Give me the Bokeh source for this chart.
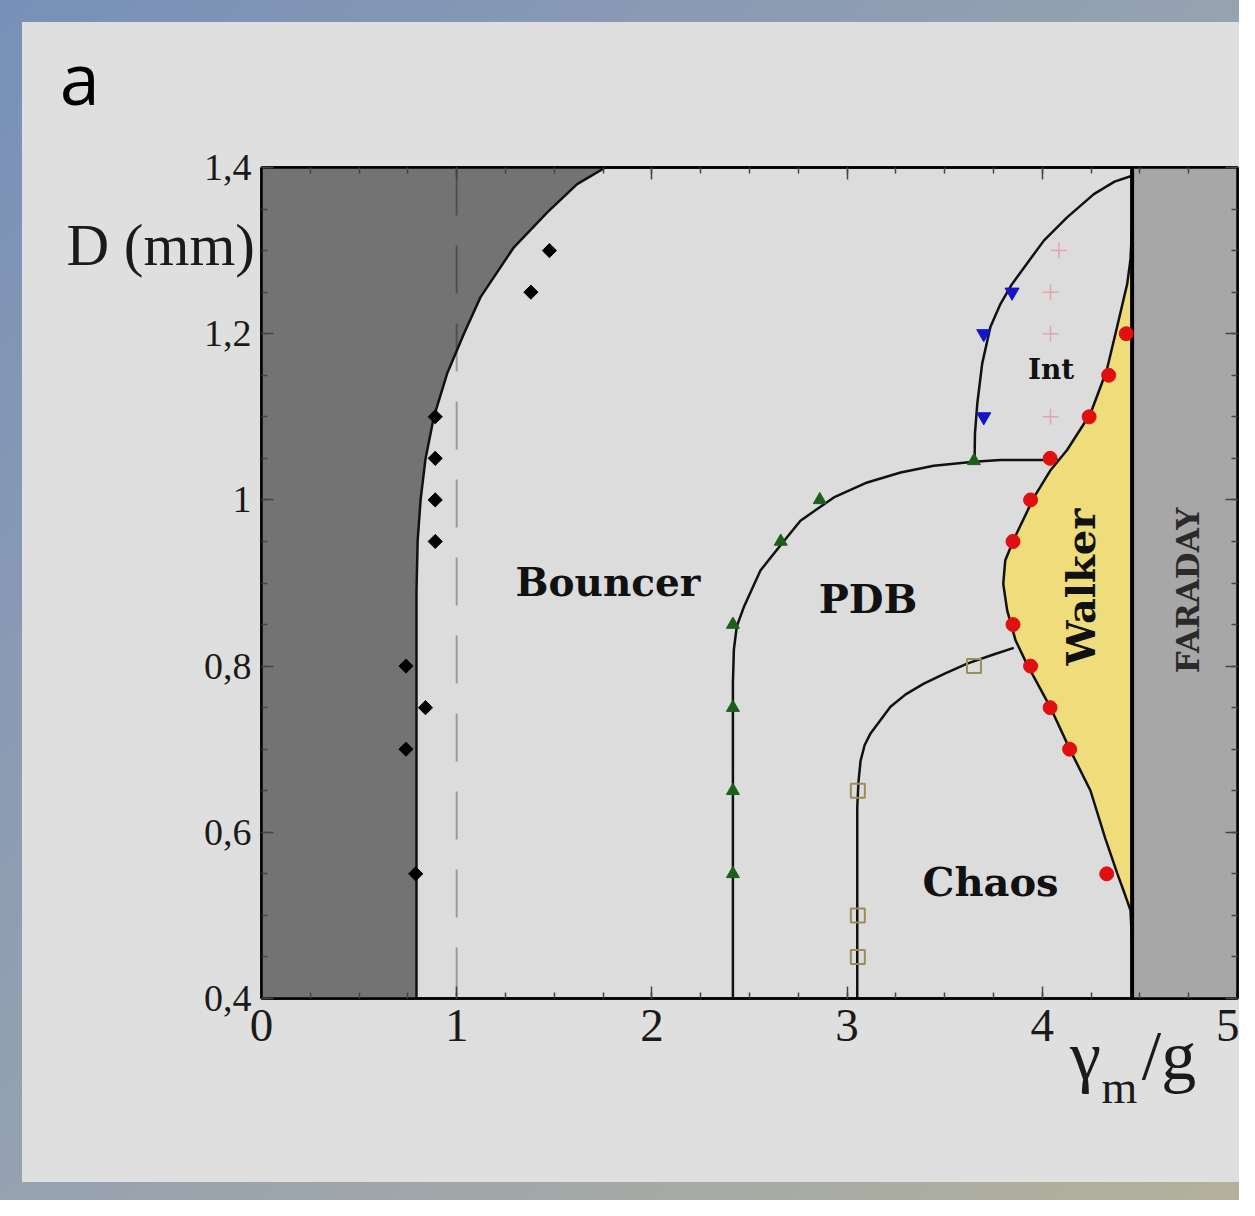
from math import pi
from bokeh.plotting import figure
from bokeh.models import FixedTicker, LinearAxis, CustomJSTickFormatter, Label
from bokeh.embed import file_html
from bokeh.resources import INLINE

# ---------------- axes / ticks ----------------
X_TICKS = [0, 1, 2, 3, 4, 5]
X_MINOR = [i * 0.25 for i in range(21)]
Y_TICKS = [0.4, 0.6, 0.8, 1.0, 1.2, 1.4]
Y_MINOR = [0.4 + i * 0.05 for i in range(21)]
Y_TICK_LABELS = ["0,4", "0,6", "0,8", "1", "1,2", "1,4"]

# ---------------- regime boundaries (gamma_m/g, D in mm) ----------------
bouncer_gamma = [0.794, 0.794, 0.80, 0.815, 0.84, 0.883, 0.951, 1.037, 1.122, 1.293, 1.464, 1.617, 1.762]
bouncer_D     = [0.40, 0.89, 0.951, 1.00, 1.049, 1.10, 1.152, 1.20, 1.244, 1.304, 1.346, 1.38, 1.40]

pdb_gamma = [2.415, 2.415, 2.42, 2.435, 2.471, 2.556, 2.664, 2.761, 2.932, 3.103, 3.274, 3.444, 3.649, 3.786, 4.08]
pdb_D     = [0.40, 0.78, 0.82, 0.848, 0.871, 0.915, 0.947, 0.975, 1.003, 1.021, 1.033, 1.041, 1.046, 1.048, 1.048]

chaos_gamma = [3.052, 3.052, 3.058, 3.069, 3.09, 3.12, 3.222, 3.30, 3.393, 3.50, 3.615, 3.75, 3.854]
chaos_D     = [0.40, 0.63, 0.66, 0.686, 0.705, 0.719, 0.751, 0.766, 0.779, 0.791, 0.803, 0.814, 0.822]

int_gamma = [3.653, 3.655, 3.667, 3.692, 3.734, 3.786, 3.84, 3.92, 4.008, 4.127, 4.264, 4.37, 4.46]
int_D     = [1.046, 1.08, 1.116, 1.164, 1.208, 1.236, 1.258, 1.284, 1.312, 1.34, 1.368, 1.383, 1.39]

walker_gamma = [4.46, 4.452, 4.416, 4.385, 4.323, 4.247, 4.145, 4.04, 3.92, 3.863, 3.82, 3.80, 3.81,
                3.855, 3.957, 4.04, 4.127, 4.247, 4.33, 4.383, 4.435, 4.452, 4.46]
walker_D     = [0.465, 0.506, 0.53, 0.55, 0.5925, 0.65, 0.698, 0.751, 0.803, 0.831, 0.867, 0.899, 0.927,
                0.953, 1.003, 1.035, 1.06, 1.104, 1.156, 1.208, 1.26, 1.29, 1.33]

faraday_gamma = 4.46
reference_gamma = 1.0

# ---------------- measured points ----------------
bouncer_pts_gamma = [1.475, 1.38, 0.89, 0.89, 0.89, 0.89, 0.74, 0.84, 0.74, 0.79]
bouncer_pts_D     = [1.30, 1.25, 1.10, 1.05, 1.00, 0.95, 0.80, 0.75, 0.70, 0.55]
pdb_pts_gamma = [2.415, 2.415, 2.415, 2.415, 2.66, 2.86, 3.65]
pdb_pts_D     = [0.55, 0.65, 0.75, 0.85, 0.95, 1.00, 1.047]
int_pts_gamma = [3.70, 3.845, 3.70]
int_pts_D     = [1.20, 1.25, 1.10]
plus_pts_gamma = [4.085, 4.042, 4.042, 4.042]
plus_pts_D     = [1.30, 1.25, 1.20, 1.10]
walker_pts_gamma = [4.43, 4.34, 4.24, 4.04, 3.94, 3.85, 3.85, 3.94, 4.04, 4.14, 4.33]
walker_pts_D     = [1.20, 1.15, 1.10, 1.05, 1.00, 0.95, 0.85, 0.80, 0.75, 0.70, 0.55]
chaos_pts_gamma = [3.055, 3.055, 3.055, 3.65]
chaos_pts_D     = [0.65, 0.50, 0.45, 0.80]

p = figure(frame_width=976, frame_height=831, x_range=(0, 5), y_range=(0.4, 1.4),
           output_backend="svg", toolbar_location=None,
           min_border_left=261, min_border_right=2, min_border_top=167, min_border_bottom=202,
           background_fill_color="#dcdcdc", border_fill_color=None,
           outline_line_color="black", outline_line_width=2.5)
p.title.visible = False
p.grid.visible = False
# slide background: blue-grey gradient with the light grey panel on top (CSS layers)
p.styles = {"background": "linear-gradient(#dfdfdf, #dfdfdf) 22px 22px / 1300px 1160px no-repeat, "
                          "linear-gradient(135deg, #7890b8 0%, #96a2b0 50%, #b3b19c 100%)"}

# regions
p.patch([0] + bouncer_gamma + [0], [0.4] + bouncer_D + [1.4], fill_color="#737373", line_alpha=0)
p.quad(left=[faraday_gamma], right=[5], bottom=[0.4], top=[1.4], fill_color="#a7a7a7", line_alpha=0)
p.patch(walker_gamma, walker_D, fill_color="#efdc7b", line_alpha=0)

# dashed reference line
p.line([reference_gamma, reference_gamma], [1.4, 0.4], line_color="black", line_alpha=0.3,
       line_width=2, line_dash="48 30")

# boundaries
for gx, gy in [(bouncer_gamma, bouncer_D), (pdb_gamma, pdb_D), (chaos_gamma, chaos_D),
               (int_gamma, int_D), (walker_gamma, walker_D)]:
    p.line(gx, gy, line_color="#111111", line_width=2.5)
p.line([faraday_gamma, faraday_gamma], [0.4, 1.4], line_color="black", line_width=4)

# points
p.scatter(bouncer_pts_gamma, bouncer_pts_D, marker="square", angle=pi / 4, size=10,
          fill_color="black", line_color="black")
p.scatter(pdb_pts_gamma, pdb_pts_D, marker="triangle", size=13, fill_color="#1d5e1d", line_color="#1d5e1d")
p.scatter(int_pts_gamma, int_pts_D, marker="inverted_triangle", size=14, fill_color="#1515c8", line_color="#1515c8")
p.scatter(plus_pts_gamma, plus_pts_D, marker="cross", size=16, line_color="#e6a3ad", line_width=1.5)
p.scatter(walker_pts_gamma, walker_pts_D, marker="circle", size=14, fill_color="#e01010", line_color="#e01010")
p.scatter(chaos_pts_gamma, chaos_pts_D, marker="square", size=14, fill_alpha=0, line_color="#9c8c55", line_width=2)

# axes
def style_axis(ax):
    ax.axis_line_width = 2.5
    ax.axis_line_color = "black"
    ax.major_tick_in = 12
    ax.major_tick_out = 0
    ax.minor_tick_in = 6
    ax.minor_tick_out = 0
    ax.major_tick_line_color = "#444444"
    ax.minor_tick_line_color = "#444444"
    ax.major_tick_line_width = 1.5
    ax.minor_tick_line_width = 1.5

for ax in (p.xaxis[0], p.yaxis[0]):
    style_axis(ax)
    ax.major_label_text_font = "Liberation Serif"
    ax.major_label_text_color = "#1a1a1a"

p.xaxis.ticker = FixedTicker(ticks=X_TICKS, minor_ticks=X_MINOR)
p.xaxis.major_label_text_font_size = "47px"
p.xaxis.major_label_standoff = 11
p.yaxis.ticker = FixedTicker(ticks=Y_TICKS, minor_ticks=Y_MINOR)
p.yaxis.major_label_overrides = dict(zip(Y_TICKS, Y_TICK_LABELS))
p.yaxis.major_label_text_font_size = "38px"
p.yaxis.major_label_standoff = 10

blank = CustomJSTickFormatter(code="return ''")
top_axis = LinearAxis(ticker=FixedTicker(ticks=X_TICKS, minor_ticks=X_MINOR), formatter=blank)
right_axis = LinearAxis(ticker=FixedTicker(ticks=Y_TICKS, minor_ticks=Y_MINOR), formatter=blank)
for ax in (top_axis, right_axis):
    style_axis(ax)
    ax.major_label_standoff = 0
    ax.major_label_text_font_size = "1px"
p.add_layout(top_axis, "above")
p.add_layout(right_axis, "right")

# texts
serif_b = "DejaVu Serif"
def lab(x, y, text, size, font, style="normal", align="left", baseline="alphabetic", angle=0,
        color="#111111", place="center"):
    L = Label(x=x, y=y, text=text, text_font=font, text_font_size=size, text_font_style=style,
              text_align=align, text_baseline=baseline, angle=angle, text_color=color)
    if place == "center":
        p.add_layout(L)
    else:
        p.add_layout(L, place)

# texts outside the plot box live in the side panels (not clipped there)
lab(-1.033, 1.5095, "a", "72px", "Open Sans", color="#000000", place="above")
lab(-0.999, 1.3066, "D (mm)", "59px", "Liberation Serif", color="#1a1a1a", place="left")
lab(4.142, 0.3309, "\u03b3\u2002\u200a/g", "70px", "Liberation Serif", color="#1a1a1a", place="below")
lab(4.303, 0.2923, "m", "46px", "Liberation Serif", color="#1a1a1a", place="above")

lab(1.775, 0.9007, "Bouncer", "39px", serif_b, style="bold", align="center")
lab(3.107, 0.8819, "PDB", "40px", serif_b, style="bold", align="center")
lab(3.735, 0.541, "Chaos", "40px", serif_b, style="bold", align="center")
lab(4.045, 1.1573, "Int", "28px", serif_b, style="bold", align="center")
lab(4.198, 0.895, "Walker", "40px", serif_b, style="bold", align="center", baseline="middle", angle=pi / 2)
lab(4.747, 0.891, "FARADAY", "31px", serif_b, style="bold", align="center", baseline="middle", angle=pi / 2,
    color="#2a2a2a")

open("out.html", "w").write(file_html(p, INLINE))
